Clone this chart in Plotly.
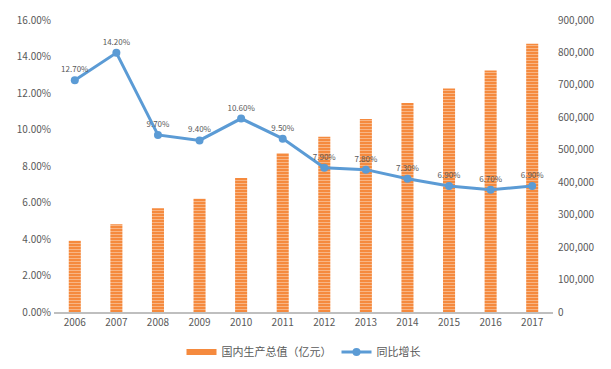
import plotly.graph_objects as go

years = ["2006", "2007", "2008", "2009", "2010", "2011", "2012", "2013", "2014", "2015", "2016", "2017"]
gdp = [219439, 270232, 319516, 349081, 413030, 489301, 540367, 595244, 643974, 689052, 744127, 827122]
growth = [0.127, 0.142, 0.097, 0.094, 0.106, 0.095, 0.079, 0.078, 0.073, 0.069, 0.067, 0.069]
growth_labels = [f"{v*100:.2f}%" for v in growth]

font_family = "Noto Sans CJK SC, Open Sans, sans-serif"
grey = "#595959"
bar_name = "国内生产总值（亿元）"

fig = go.Figure()
fig.add_trace(go.Bar(
    x=years, y=gdp, name=bar_name,
    yaxis="y", width=0.29, showlegend=False,
    marker=dict(color="#F79646", line=dict(width=0),
                pattern=dict(shape="-", fgcolor="#FCE0CA", bgcolor="#F58A3E", size=3, solidity=0.35)),
))
# legend entry for the bars (wide swatch like the reference)
fig.add_trace(go.Scatter(
    x=[None], y=[None], name=bar_name, mode="lines", yaxis="y",
    line=dict(color="#F58A3E", width=6),
))
fig.add_trace(go.Scatter(
    x=years, y=growth, name="同比增长", yaxis="y2",
    mode="lines+markers+text",
    line=dict(color="#5B9BD5", width=3),
    marker=dict(color="#5B9BD5", size=8),
    text=growth_labels, textposition="top center",
    textfont=dict(size=8, color=grey),
))

fig.update_layout(
    width=603, height=361,
    margin=dict(l=46, r=58, t=12, b=57, autoexpand=False),
    plot_bgcolor="white", paper_bgcolor="white",
    font=dict(family=font_family, size=10, color=grey),
    xaxis=dict(showgrid=False, showline=True, linecolor="#BFBFBF", linewidth=2,
               range=[-0.5, len(years) - 0.5],
               ticks="", tickfont=dict(size=10, color=grey), automargin=False),
    yaxis=dict(side="right", range=[0, 900000], dtick=100000, tickformat=",",
               showgrid=False, zeroline=False, showline=False, automargin=False,
               ticklabelstandoff=4,
               tickfont=dict(size=10, color=grey)),
    yaxis2=dict(side="left", overlaying="y", range=[0, 0.16], dtick=0.02, tickformat=".2%",
                showgrid=False, zeroline=False, showline=False, automargin=False,
                ticklabelstandoff=2,
                tickfont=dict(size=10, color=grey)),
    legend=dict(orientation="h", x=0.5, xanchor="center", y=-0.137, yanchor="middle",
                font=dict(size=11, color=grey), traceorder="normal"),
    showlegend=True,
)

fig.write_html("out.html")
